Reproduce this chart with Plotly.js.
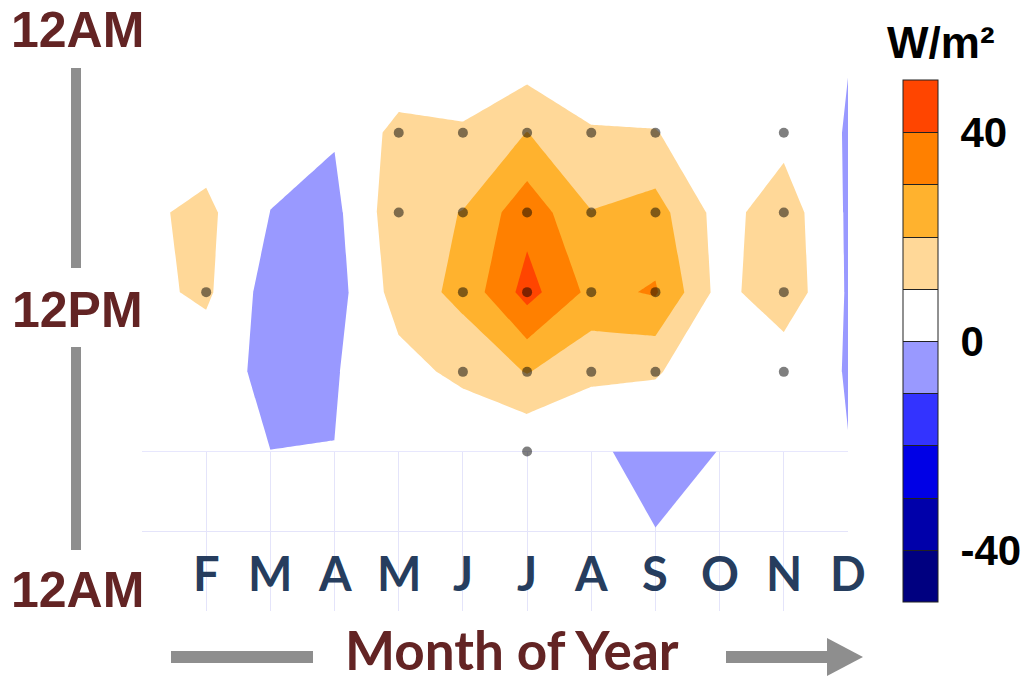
<!DOCTYPE html>
<html>
<head>
<meta charset="utf-8">
<script src="https://cdn.plot.ly/plotly-3.0.1.min.js"></script>
<style>html,body{margin:0;padding:0;background:#fff;}#chart{width:1023px;height:683px;}</style>
</head>
<body>
<div id="chart"></div>
<script>
// ---- data ----
const months = [1,2,3,4,5,6,7,8,9,10,11,12];
const monthTickVals = [2,3,4,5,6,7,8,9,10,11,12];
const monthTickText = ['F','M','A','M','J','J','A','S','O','N','D'];
const daySlots = [0,1,2,3,4,5];
const lateSlots = [5,6];

// radiative flux anomaly (W/m2), rows = time slots, columns = Jan..Dec
const fluxRow0 = [1, 1, 1, 0.5, 1.2, 2, 3.3, 1, 0.5, 0.5, 2, 0.31];
const fluxRow1 = [5, 4.9, 3, 0.77, 13.1, 11.3, 20.2, 11, 10.5, 3, 6.8, -0.7];
const fluxRow2 = [8.2, 12.3, -0.1, -2.45, 16.4, 20.3, 36.4, 20.3, 24.1, 6.3, 15.3, -1.2];
const fluxRow3 = [7.4, 11.8, -4.3, -4.0, 14.2, 22.9, 43.8, 27.3, 31, 6.6, 16.6, -1.0];
const fluxRow4 = [4, 3.6, -2.0, -0.6, 6.4, 12.5, 20.5, 12.2, 11, 2.7, 3.4, -0.35];
const fluxRow5 = [1, 1, 0.05, 0.1, 1, 0.6, 0.6, 0.5, 0.5, 0.5, 1, 0.13];
// late-evening band
const lateRow5 = [1, 1, 0.05, 0.1, 1, 0.6, 0.6, 0.5, -1, 0.05, 1, 0.13];
const lateRow6 = [1, 1, 1, 1, 1, 1, 1, 1, 0.05, 1, 1, 1];

// significant grid points
const sigMonth = [5,6,7,8,9,11, 5,6,7,8,9,11, 2,6,7,8,9,11, 6,7,8,9,11, 7];
const sigSlot  = [1,1,1,1,1,1, 2,2,2,2,2,2, 3,3,3,3,3,3, 4,4,4,4,4, 5];

const binColors = ['#000080','#0000AA','#0000E6','#3333FF','#9999FF',
                   '#FFFFFF','#FFD898','#FFB22E','#FF8000','#FF4500'];
const cbTickVals = [-40, 0, 40];
const cbTickText = ['-40', '0', '40'];

// ---- build ----
const makeScale = cols => {
  const s = [];
  cols.forEach((c, i) => { s.push([i/10, c]); s.push([(i+1)/10, c]); });
  return s;
};
const colorscale = makeScale(binColors);
// the field itself never drops below -10, so the unused deep bins are left white
const fieldScale = makeScale(binColors.map((c, i) => i < 4 ? '#FFFFFF' : c));

const L = 142, R = 848, T = 53, B = 611;
const px = x => (x - L) / (R - L);
const py = y => (B - y) / (B - T);

const contourSpec = {start: -40, end: 40, size: 10, coloring: 'fill', showlines: false};

const traces = [
  {type: 'contour', x: months, y: daySlots,
   z: [fluxRow0, fluxRow1, fluxRow2, fluxRow3, fluxRow4, fluxRow5],
   zmin: -50, zmax: 50, autocontour: false, contours: contourSpec,
   colorscale: fieldScale, line: {width: 0, smoothing: 0}, showscale: false, hoverinfo: 'skip'},
  {type: 'contour', x: months, y: lateSlots, z: [lateRow5, lateRow6],
   contours: {type: 'constraint', operation: '>', value: 0, showlines: false},
   fillcolor: '#9999FF', line: {width: 0, smoothing: 0}, showscale: false, hoverinfo: 'skip'},
  {type: 'contour', x: [30, 31], y: [0, 1], z: [[-45, 45], [-45, 45]],
   zmin: -50, zmax: 50, autocontour: false,
   contours: {start: -40, end: 40, size: 10, coloring: 'fill', showlines: true},
   colorscale: colorscale, line: {width: 1, color: '#222', smoothing: 0}, hoverinfo: 'skip',
   showscale: true,
   colorbar: {x: px(903), xanchor: 'left', y: py(341), yanchor: 'middle',
     len: 522, lenmode: 'pixels', thickness: 35, thicknessmode: 'pixels',
     outlinewidth: 1, outlinecolor: '#222', xpad: 0, ypad: 0,
     tickmode: 'array', tickvals: cbTickVals, ticktext: cbTickText,
     ticks: 'outside', ticklen: 14, tickcolor: 'rgba(0,0,0,0)',
     tickfont: {family: 'Liberation Sans, Arial, sans-serif', size: 42, color: '#000', weight: 'bold'}}},
  {type: 'scatter', mode: 'markers', x: sigMonth, y: sigSlot,
   marker: {size: 10, color: 'rgba(0,0,0,0.5)'}, hoverinfo: 'skip', showlegend: false}
];

const maroon = '#632424';
const annotations = monthTickVals.map((m, i) => ({
  x: m, y: 6.52, xref: 'x', yref: 'y', text: '<b>' + monthTickText[i] + '</b>', showarrow: false,
  font: {family: 'Lato, sans-serif', size: 47, color: '#263D5E'}, xanchor: 'center', yanchor: 'middle'}));
[['12AM', 30], ['12PM', 310], ['12AM', 590]].forEach(([t, y]) => annotations.push({
  x: px(77), y: py(y), xref: 'paper', yref: 'paper', text: '<b>' + t + '</b>', showarrow: false,
  font: {family: 'Liberation Sans, Arial, sans-serif', size: 50, color: maroon}, xanchor: 'center', yanchor: 'middle'}));
annotations.push({x: px(512), y: py(682), xref: 'paper', yref: 'paper', text: '<b>Month of Year</b>',
  showarrow: false, font: {family: 'Lato, sans-serif', size: 53, color: maroon}, xanchor: 'center', yanchor: 'bottom', borderpad: 0});
annotations.push({x: px(941), y: py(42), xref: 'paper', yref: 'paper', text: '<b>W/m²</b>',
  showarrow: false, font: {family: 'Liberation Sans, Arial, sans-serif', size: 44, color: '#000'}, xanchor: 'center', yanchor: 'middle'});

const gray = '#8E8E8E';
const shapes = [
  {type: 'line', xref: 'paper', yref: 'paper', x0: px(76), x1: px(76), y0: py(68), y1: py(268), line: {color: gray, width: 10}},
  {type: 'line', xref: 'paper', yref: 'paper', x0: px(76), x1: px(76), y0: py(347), y1: py(550), line: {color: gray, width: 10}},
  {type: 'line', xref: 'paper', yref: 'paper', x0: px(171), x1: px(313), y0: py(657), y1: py(657), line: {color: gray, width: 12}},
  {type: 'line', xref: 'paper', yref: 'paper', x0: px(726), x1: px(830), y0: py(657), y1: py(657), line: {color: gray, width: 12}},
  {type: 'path', xref: 'paper', yref: 'paper',
   path: `M ${px(827)} ${py(638)} L ${px(863)} ${py(657)} L ${px(827)} ${py(676)} Z`,
   fillcolor: gray, line: {width: 0}}
];

const layout = {
  width: 1023, height: 683,
  margin: {l: L, r: 1023 - R, t: T, b: 683 - B, pad: 0, autoexpand: false},
  paper_bgcolor: '#fff', plot_bgcolor: '#fff',
  showlegend: false,
  xaxis: {range: [1, 12], tickmode: 'array', tickvals: monthTickVals, showticklabels: false,
          showgrid: true, gridcolor: '#E4E4FA', gridwidth: 1, zeroline: false, showline: false, ticks: ''},
  yaxis: {range: [7, 0], tickmode: 'array', tickvals: [5, 6], showticklabels: false,
          showgrid: true, gridcolor: '#E4E4FA', gridwidth: 1, zeroline: false, showline: false, ticks: ''},
  annotations: annotations,
  shapes: shapes
};

Plotly.newPlot('chart', traces, layout, {staticPlot: true, displayModeBar: false});
</script>
</body>
</html>
